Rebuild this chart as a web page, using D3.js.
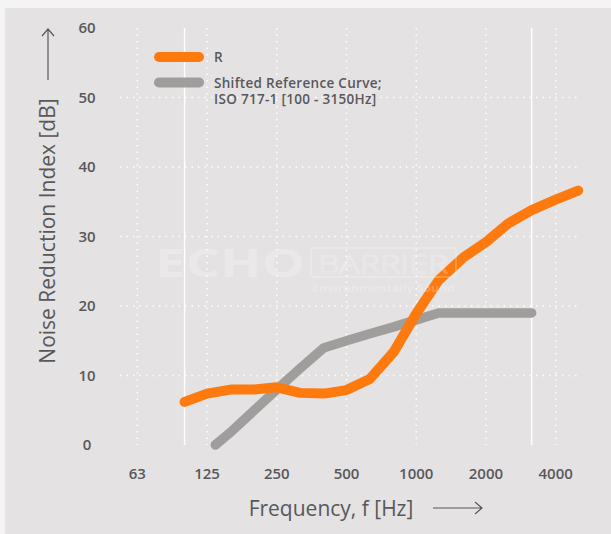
<!DOCTYPE html>
<html>
<head>
<meta charset="utf-8">
<script src="https://cdn.jsdelivr.net/npm/d3@7"></script>
<style>
  html, body { margin: 0; padding: 0; background: #f4f4f4; }
  text { font-family: "Open Sans", sans-serif; }
</style>
</head>
<body>
<svg id="chart" width="611" height="534"></svg>
<script>
// 1/3 octave band centres, Hz
var freqs = [100, 125, 160, 200, 250, 315, 400, 500, 630, 800, 1000, 1250, 1600, 2000, 2500, 3150, 4000, 5000];
// measured noise reduction index R, dB
var rValues = [6.2, 7.4, 8.0, 8.0, 8.3, 7.5, 7.4, 7.9, 9.5, 13.4, 18.9, 23.7, 27.0, 29.2, 31.9, 33.8, 35.3, 36.6];
// ISO 717-1 reference curve shifted, 100 - 3150 Hz
var refFreqs = [100, 125, 160, 200, 250, 315, 400, 500, 630, 800, 1000, 1250, 1600, 2000, 2500, 3150];
var refValues = [-4, -1, 2, 5, 8, 11, 14, 15, 16, 17, 18, 19, 19, 19, 19, 19];

var xTicks = [62.5, 125, 250, 500, 1000, 2000, 4000];
var xTickLabels = ["63", "125", "250", "500", "1000", "2000", "4000"];
var yTicks = [0, 10, 20, 30, 40, 50, 60];
var rangeLimits = [100, 3150];

var W = 611, H = 534;
var svg = d3.select("#chart");
var textCol = "#58585a";

// grey panel
svg.append("rect")
   .attr("x", 5).attr("y", 8)
   .attr("width", W - 5).attr("height", H - 8)
   .attr("fill", "#e4e2e3");

var x = d3.scaleLog().base(2)
          .domain([62.5, 4000])
          .range([137.3, 555.7]);

var y = d3.scaleLinear()
          .domain([0, 60])
          .range([445, 28]);

// dotted grid
svg.selectAll(".hgrid")
   .data(yTicks.filter(function(d) { return d > 0 && d < 60; }))
   .enter().append("line")
   .attr("class", "hgrid")
   .attr("x1", 120).attr("x2", 579)
   .attr("y1", function(d) { return y(d); })
   .attr("y2", function(d) { return y(d); })
   .attr("stroke", "#ffffff")
   .attr("stroke-width", 1.5)
   .attr("stroke-dasharray", "1.5,5");

svg.selectAll(".vgrid")
   .data(xTicks)
   .enter().append("line")
   .attr("class", "vgrid")
   .attr("x1", function(d) { return x(d); })
   .attr("x2", function(d) { return x(d); })
   .attr("y1", y(60)).attr("y2", y(0))
   .attr("stroke", "#ffffff")
   .attr("stroke-width", 1.5)
   .attr("stroke-dasharray", "1.5,5");

// solid lines marking the 100 - 3150 Hz range
svg.selectAll(".limit")
   .data(rangeLimits)
   .enter().append("line")
   .attr("class", "limit")
   .attr("x1", function(d) { return x(d); })
   .attr("x2", function(d) { return x(d); })
   .attr("y1", y(60)).attr("y2", y(0))
   .attr("stroke", "#ffffff")
   .attr("stroke-width", 1.5);

// tick labels
svg.selectAll(".ylab")
   .data(yTicks)
   .enter().append("text")
   .attr("class", "ylab")
   .attr("x", 87)
   .attr("y", function(d) { return y(d); })
   .attr("dy", "0.36em")
   .attr("text-anchor", "middle")
   .attr("font-size", 15)
   .attr("font-weight", 600)
   .attr("fill", textCol)
   .text(function(d) { return d; });

svg.selectAll(".xlab")
   .data(xTicks)
   .enter().append("text")
   .attr("class", "xlab")
   .attr("x", function(d) { return x(d); })
   .attr("y", 474)
   .attr("dy", "0.36em")
   .attr("text-anchor", "middle")
   .attr("font-size", 15)
   .attr("font-weight", 600)
   .attr("fill", textCol)
   .text(function(d, i) { return xTickLabels[i]; });

// the plot stops at 0 dB: cut the reference curve where it crosses 0
function clipAtZero(fs, vs) {
  var pts = [];
  for (var i = 0; i < fs.length; i++) {
    if (vs[i] >= 0) {
      if (i > 0 && vs[i - 1] < 0) {
        var t = -vs[i - 1] / (vs[i] - vs[i - 1]);
        var lf = Math.log2(fs[i - 1]) + t * (Math.log2(fs[i]) - Math.log2(fs[i - 1]));
        pts.push([Math.pow(2, lf), 0]);
      }
      pts.push([fs[i], vs[i]]);
    }
  }
  return pts;
}

var line = d3.line()
             .x(function(d) { return x(d[0]); })
             .y(function(d) { return y(d[1]); });

svg.append("path")
   .datum(clipAtZero(refFreqs, refValues))
   .attr("d", line)
   .attr("fill", "none")
   .attr("stroke", "#a09e9c")
   .attr("stroke-width", 9.5)
   .attr("stroke-linecap", "round")
   .attr("stroke-linejoin", "round");

svg.append("path")
   .datum(d3.zip(freqs, rValues))
   .attr("d", line)
   .attr("fill", "none")
   .attr("stroke", "#ff7a0e")
   .attr("stroke-width", 10)
   .attr("stroke-linecap", "round")
   .attr("stroke-linejoin", "round");

// watermark
var wm = svg.append("g").attr("opacity", 0.22);
wm.append("text")
  .attr("x", 155).attr("y", 277)
  .attr("font-size", 40)
  .attr("font-weight", 700)
  .attr("textLength", 150)
  .attr("lengthAdjust", "spacingAndGlyphs")
  .attr("fill", "#ffffff")
  .text("ECHO");
wm.append("rect")
  .attr("x", 311).attr("y", 248)
  .attr("width", 145).attr("height", 29)
  .attr("rx", 3)
  .attr("fill", "none")
  .attr("stroke", "#ffffff")
  .attr("stroke-width", 2);
wm.append("text")
  .attr("x", 318).attr("y", 273)
  .attr("font-size", 25)
  .attr("font-weight", 300)
  .attr("textLength", 130)
  .attr("lengthAdjust", "spacingAndGlyphs")
  .attr("fill", "none")
  .attr("stroke", "#ffffff")
  .attr("stroke-width", 1)
  .text("BARRIER");
wm.append("text")
  .attr("x", 312).attr("y", 292)
  .attr("font-family", "DejaVu Serif, serif")
  .attr("font-size", 11)
  .attr("font-weight", 700)
  .attr("textLength", 143)
  .attr("lengthAdjust", "spacingAndGlyphs")
  .attr("fill", "#ffffff")
  .text("Environmentally Sound");

// legend
var legend = [
  { color: "#ff7a0e", lines: ["R"], ly: 57 },
  { color: "#a09e9c", lines: ["Shifted Reference Curve;", "ISO 717-1 [100 - 3150Hz]"], ly: 82.5 }
];
var lg = svg.selectAll(".leg").data(legend).enter().append("g").attr("class", "leg");
lg.append("line")
  .attr("x1", 159).attr("x2", 199)
  .attr("y1", function(d) { return d.ly; })
  .attr("y2", function(d) { return d.ly; })
  .attr("stroke", function(d) { return d.color; })
  .attr("stroke-width", 10)
  .attr("stroke-linecap", "round");
lg.each(function(d) {
  var g = d3.select(this);
  d.lines.forEach(function(s, i) {
    g.append("text")
     .attr("x", 214).attr("y", d.ly + 5.2 + i * 16.6)
     .attr("font-size", 13.5)
     .attr("font-weight", 600)
     .attr("letter-spacing", 0.3)
     .attr("fill", textCol)
     .text(s);
  });
});

// axis titles with arrows
svg.append("text")
   .attr("transform", "translate(55,231) rotate(-90)")
   .attr("text-anchor", "middle")
   .attr("font-size", 21)
   .attr("fill", textCol)
   .text("Noise Reduction Index [dB]");
svg.append("text")
   .attr("x", 331).attr("y", 516)
   .attr("text-anchor", "middle")
   .attr("font-size", 21)
   .attr("fill", textCol)
   .text("Frequency, f [Hz]");

var arrows = svg.append("g")
                .attr("stroke", textCol)
                .attr("stroke-width", 1.2)
                .attr("fill", "none");
arrows.append("path").attr("d", "M48,80 L48,29 M42,36 L48,29 L54,36");
arrows.append("path").attr("d", "M433,508 L482,508 M475,502 L482,508 L475,514");
</script>
</body>
</html>
